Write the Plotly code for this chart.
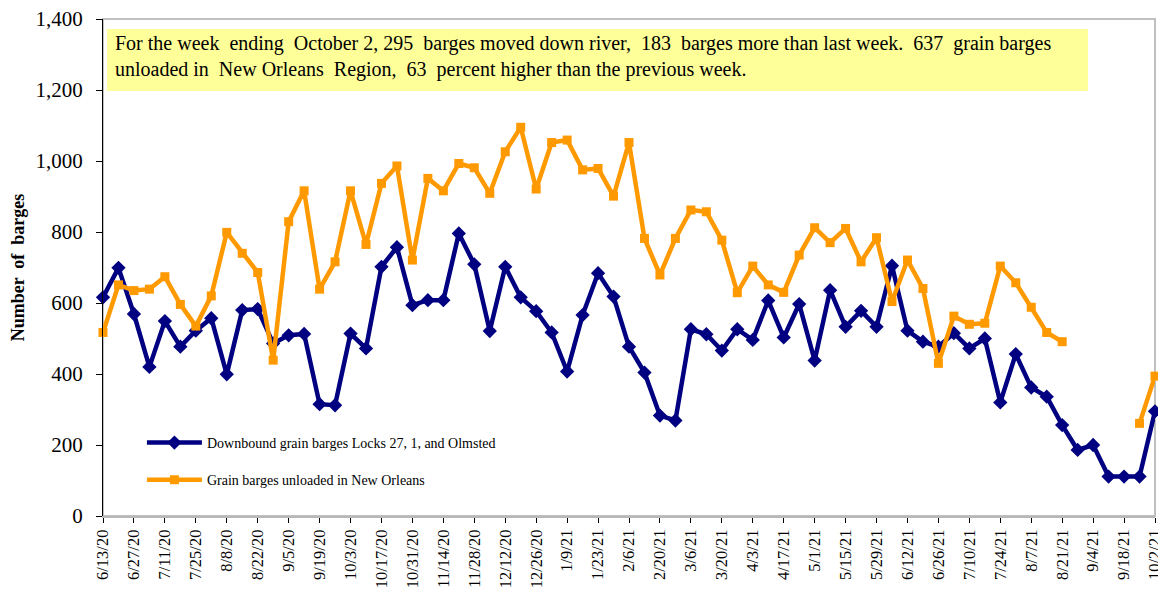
import plotly.graph_objects as go

dates = ["6/13/20","6/20/20","6/27/20","7/4/20","7/11/20","7/18/20","7/25/20","8/1/20","8/8/20","8/15/20",
         "8/22/20","8/29/20","9/5/20","9/12/20","9/19/20","9/26/20","10/3/20","10/10/20","10/17/20","10/24/20",
         "10/31/20","11/7/20","11/14/20","11/21/20","11/28/20","12/5/20","12/12/20","12/19/20","12/26/20","1/2/21",
         "1/9/21","1/16/21","1/23/21","1/30/21","2/6/21","2/13/21","2/20/21","2/27/21","3/6/21","3/13/21",
         "3/20/21","3/27/21","4/3/21","4/10/21","4/17/21","4/24/21","5/1/21","5/8/21","5/15/21","5/22/21",
         "5/29/21","6/5/21","6/12/21","6/19/21","6/26/21","7/3/21","7/10/21","7/17/21","7/24/21","7/31/21",
         "8/7/21","8/14/21","8/21/21","8/28/21","9/4/21","9/11/21","9/18/21","9/25/21","10/2/21"]

downbound = [616, 699, 569, 420, 549, 477, 522, 557, 399, 580,
             583, 486, 509, 513, 315, 312, 514, 472, 702, 757,
             594, 608, 608, 796, 709, 521, 702, 616, 577, 517,
             407, 566, 684, 618, 477, 404, 283, 269, 526, 512,
             466, 526, 496, 607, 503, 597, 438, 636, 533, 578,
             533, 705, 522, 491, 477, 515, 472, 500, 320, 456,
             362, 336, 256, 186, 200, 111, 111, 111, 295]

new_orleans = [517, 651, 635, 639, 674, 596, 535, 620, 799, 740,
               686, 439, 829, 916, 639, 716, 916, 765, 937, 986,
               721, 951, 916, 993, 981, 909, 1026, 1095, 921, 1052,
               1059, 975, 979, 901, 1052, 782, 679, 782, 862, 857,
               777, 629, 704, 651, 630, 735, 812, 770, 810, 716,
               784, 604, 721, 641, 430, 563, 540, 543, 704, 657,
               588, 517, 491, None, None, None, None, 261, 394]

y_ticks = [0, 200, 400, 600, 800, 1000, 1200, 1400]

note = ("For the week  ending  October 2, 295  barges moved down river,  183  barges more than last week.  637  grain barges<br>"
        "unloaded in  New Orleans  Region,  63  percent higher than the previous week.")

idx = list(range(len(dates)))
serif = "Liberation Serif, Times New Roman, serif"

fig = go.Figure()
fig.add_trace(go.Scatter(
    x=idx, y=downbound, mode="lines+markers",
    name="Downbound grain barges Locks 27, 1, and Olmsted",
    line=dict(color="#000080", width=4.5),
    marker=dict(symbol="diamond", size=11, color="#000080"),
    cliponaxis=False, legend="legend"))
fig.add_trace(go.Scatter(
    x=idx, y=new_orleans, mode="lines+markers",
    name="Grain barges unloaded in New Orleans",
    line=dict(color="#FF9900", width=4.5),
    marker=dict(symbol="square", size=9, color="#FF9900"),
    connectgaps=False, cliponaxis=False, legend="legend2"))

leg_common = dict(xanchor="left", yanchor="middle", bgcolor="rgba(0,0,0,0)",
                  font=dict(size=14, family=serif), itemwidth=55)

fig.update_layout(
    width=1158, height=584,
    margin=dict(l=95, r=11, t=11, b=76),
    paper_bgcolor="white", plot_bgcolor="white",
    font=dict(family=serif, color="black"),
    showlegend=True,
    legend=dict(x=0.037, y=0.147, **leg_common),
    legend2=dict(x=0.037, y=0.072, **leg_common),
    xaxis=dict(range=[0, len(dates) - 1], tickmode="array",
               tickvals=idx[::2], ticktext=dates[::2], tickangle=-90,
               tickfont=dict(size=16.5, family=serif),
               showline=True, linecolor="#b8b8b8", linewidth=2,
               ticks="outside", ticklen=5, tickcolor="black",
               ticklabeloverflow="allow",
               showgrid=False, zeroline=False, automargin=False),
    yaxis=dict(range=[0, 1400], tickmode="array", tickvals=y_ticks,
               tickformat=",", tickfont=dict(size=21, family=serif),
               showline=True, linecolor="black", linewidth=1,
               ticks="outside", ticklen=6, tickcolor="black",
               ticklabelstandoff=9, ticklabeloverflow="allow",
               showgrid=False, zeroline=False, automargin=False,
               title=dict(text="<b>Number  of  barges</b>", font=dict(size=18, family=serif), standoff=6)),
    shapes=[
        dict(type="rect", xref="paper", yref="paper", x0=0, x1=1, y0=0, y1=1,
             line=dict(color="#c0c0c0", width=2), layer="below"),
        dict(type="rect", xref="paper", yref="paper", x0=0.0038, x1=0.9363, y0=0.855, y1=0.98,
             fillcolor="#FFFF99", line=dict(width=0), layer="below"),
    ],
    annotations=[
        dict(text=note, xref="paper", yref="paper", x=0.0095, y=0.977,
             xanchor="left", yanchor="top", align="left", showarrow=False,
             font=dict(size=20, family=serif, color="black")),
    ],
)

fig.write_html("out.html")
